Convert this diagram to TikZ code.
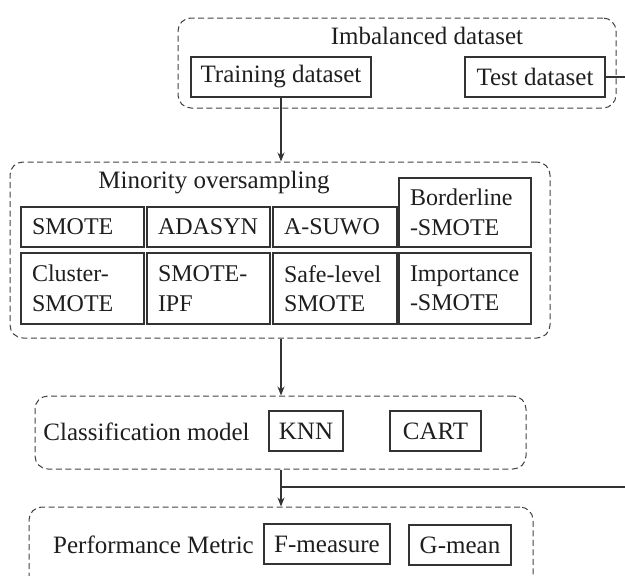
\documentclass[tikz,border=0pt]{standalone}
\usepackage{fontspec}
\setmainfont{Liberation Serif}
\usetikzlibrary{arrows.meta}
\definecolor{ink}{HTML}{1E1E1E}
\definecolor{edge}{HTML}{333333}
\definecolor{dash}{HTML}{444444}
\tikzset{
  every node/.style={font=\fontsize{25}{30}\selectfont, text=ink},
  solidbox/.style={draw=edge, line width=1.2pt, inner sep=0pt, align=center},
  gridbox/.style={draw=edge, line width=1.2pt, inner xsep=11pt, inner ysep=0pt, align=left, font=\fontsize{24}{29.5}\selectfont},
  group/.style={draw=dash, line width=1pt, dash pattern=on 6pt off 3.5pt, rounded corners=13pt, inner sep=0pt},
  conn/.style={draw=edge, line width=1.1pt},
  arr/.style={conn, -{Stealth[length=9pt,width=7pt]}},
}
\begin{document}
\begin{tikzpicture}[x=1pt,y=-1pt]
\useasboundingbox (0,0) rectangle (625,576);
\clip (0,0) rectangle (625,576);

% Imbalanced dataset group
\node[group, minimum width=438pt, minimum height=90pt] (imb) at (397,63) {};
\node (imblabel) at (427,36) {Imbalanced dataset};
\node[solidbox, minimum width=180pt, minimum height=40pt] (train) at (281,77) {Training dataset};
\node[solidbox, minimum width=140pt, minimum height=40pt] (test) at (535,77) {Test dataset};

% Minority oversampling group
\node[group, minimum width=540pt, minimum height=176pt] (minor) at (280,250) {};
\node (minorlabel) at (214,183) {Minority oversampling};
\node[gridbox, text width=101pt, minimum height=40pt] (smote) at (82.5,227) {SMOTE};
\node[gridbox, text width=101pt, minimum height=40pt] (adasyn) at (208.5,227) {ADASYN};
\node[gridbox, text width=102pt, minimum height=40pt] (asuwo) at (335,227) {A-SUWO};
\node[gridbox, text width=110pt, minimum height=69pt] (border) at (465,212.5) {Borderline\\-SMOTE};
\node[gridbox, text width=101pt, minimum height=71pt] (cluster) at (82.5,288.5) {Cluster-\\SMOTE};
\node[gridbox, text width=101pt, minimum height=71pt] (ipf) at (208.5,288.5) {SMOTE-\\IPF};
\node[gridbox, text width=102pt, minimum height=71pt] (safe) at (335,288.5) {Safe-level\\SMOTE};
\node[gridbox, text width=110pt, minimum height=71pt] (imp) at (465,288.5) {Importance\\-SMOTE};

% Classification model group
\node[group, minimum width=491pt, minimum height=73pt] (class) at (280.5,432.5) {};
\node (classlabel) at (146.5,432) {Classification model};
\node[solidbox, minimum width=74pt, minimum height=40pt] (knn) at (306,431) {KNN};
\node[solidbox, minimum width=91pt, minimum height=40pt] (cart) at (435.5,431) {CART};

% Performance metric group
\node[group, minimum width=504pt, minimum height=110pt] (perf) at (281,562) {};
\node (perflabel) at (153.5,545) {Performance Metric};
\node[solidbox, minimum width=126pt, minimum height=40pt] (fmeas) at (327,544) {F-measure};
\node[solidbox, minimum width=102pt, minimum height=40pt] (gmean) at (460,545) {G-mean};

% Connectors
\coordinate (testend) at (625,77);
\coordinate (branch) at (281,487);
\coordinate (rightend) at (625,487);
\draw[conn] (test.east) -- (testend);
\draw[arr] (train.south) -- (train.south |- minor.north);
\draw[arr] (train.south |- minor.south) -- (train.south |- class.north);
\draw[arr] (train.south |- class.south) -- (train.south |- perf.north);
\draw[conn] (branch) -- (rightend);
\end{tikzpicture}
\end{document}
